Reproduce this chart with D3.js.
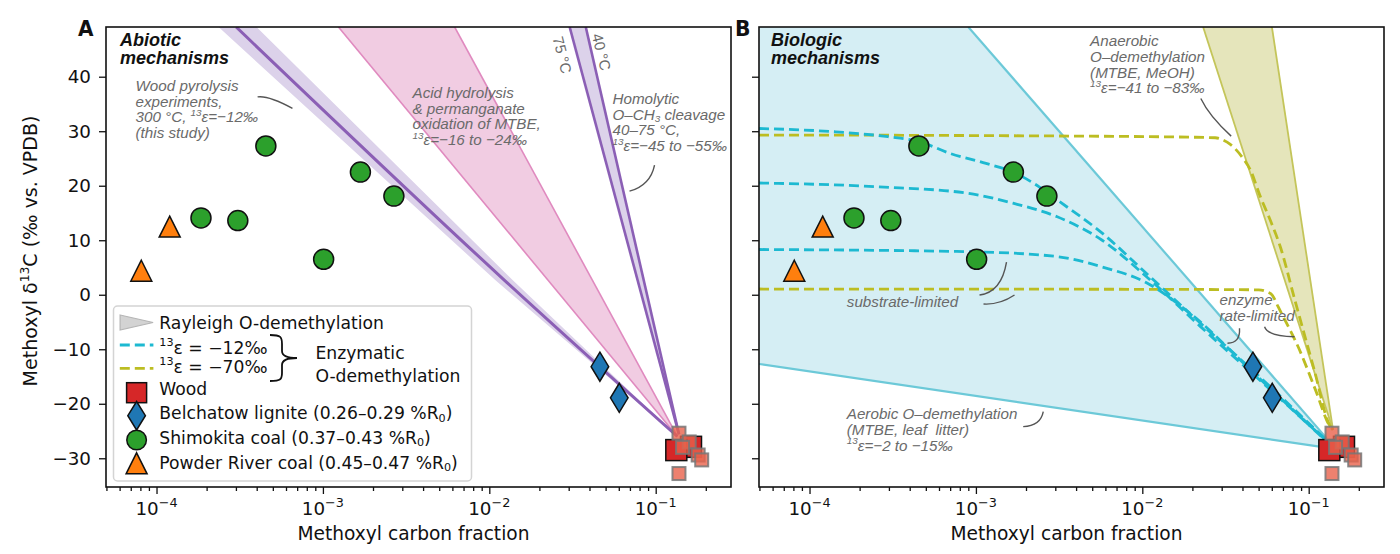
<!DOCTYPE html>
<html><head><meta charset="utf-8">
<script src="https://cdn.jsdelivr.net/npm/d3@7/dist/d3.min.js"></script>
<style>
body{margin:0;background:#fff;}
svg{display:block;}
</style></head><body>
<svg id="chart" width="1400" height="554"></svg>
<script>
// ---------------- data ----------------
const xTickValues=[1e-4,1e-3,1e-2,1e-1];
const xTickExponents=["−4","−3","−2","−1"];
const yTickValues=[-30,-20,-10,0,10,20,30,40];
const xDomain=[4.97e-5,0.2835];
const yDomain=[-35.27,49.12];

const woodBigX=[0.133,0.163];
const woodBigY=[-28.5,-27.9];
const woodX=[0.138,0.159,0.145,0.180,0.189,0.138];
const woodY=[-25.4,-27.0,-28.0,-29.4,-30.3,-32.8];
const belchatowX=[0.0462,0.0604];
const belchatowY=[-13.2,-18.9];
const shimokitaX=[1.85e-4,3.08e-4,4.54e-4,1.01e-3,1.68e-3,2.67e-3];
const shimokitaY=[14.1,13.6,27.3,6.5,22.5,18.1];
const powderX=[8.1e-5,1.2e-4];
const powderY=[4.4,12.5];

// model curves: [methoxyl fraction, delta13C]
const rayleigh12=[[3.01e-4,49.12],[0.0123,2.7],[0.135,-26]];
const rayleigh12Lo=[[2.36e-4,49.12],[0.01085,2.7],[0.135,-26]];
const rayleigh12Hi=[[3.99e-4,49.12],[0.0138,2.7],[0.135,-26]];
const acidLo=[[1.24e-3,49.12],[0.135,-26]];
const acidHi=[[6.19e-3,49.12],[0.135,-26]];
const homolytic75=[[0.0304,49.12],[0.138,-25.6]];
const homolytic40=[[0.038,49.12],[0.138,-25.6]];
const aerobicHi=[[9.0e-4,49.12],[0.128,-26.3]];
const aerobicLo=[[4.97e-5,-12.7],[0.119,-27.9]];
const anaerobicLo=[[0.0232,49.12],[0.140,-24.8]];
const anaerobicHi=[[0.0601,49.12],[0.140,-24.8]];
const enzCyanA=[[4.97e-5,30.5],[1.41e-4,29.9],[2.96e-4,29.0],[4.56e-4,28.1],[7.03e-4,25.9],[1.15e-3,24.1],[1.67e-3,22.5],[2.40e-3,19.8],[3.08e-3,17.4],[5.74e-3,11.3],[0.0106,3.9],[0.0223,-5.2],[0.0465,-14.0],[0.128,-26.7]];
const enzCyanB=[[4.97e-5,20.5],[2.62e-4,19.8],[9.0e-4,18.6],[1.67e-3,16.8],[3.08e-3,14.3],[5.74e-3,10.0],[0.0106,3.3],[0.0223,-5.8],[0.0465,-14.6],[0.128,-26.8]];
const enzCyanC=[[4.97e-5,8.3],[9.0e-4,7.9],[3.08e-3,7.0],[5.74e-3,5.1],[0.0106,2.2],[0.0197,-3.6],[0.0465,-14.3],[0.128,-26.9]];
const enzOliveA=[[4.97e-5,29.3],[1e-3,29.2],[0.02,28.9],[0.0274,28.8],[0.0305,28.4],[0.0338,27.6],[0.0397,25.3],[0.0446,22.9],[0.0512,18.0],[0.0587,13.7],[0.0675,8.8],[0.0826,-1.0],[0.108,-13.8],[0.1334,-23.9],[0.14,-24.8]];
const enzOliveB=[[4.97e-5,1.05],[0.01,1.0],[0.05,0.9],[0.0555,0.6],[0.0605,-0.1],[0.0655,-2.2],[0.088,-10.1],[0.110,-17.5],[0.1334,-24.0],[0.14,-24.8]];

// ---------------- layout ----------------
const svg=d3.select("#chart");
const Y0=27,Y1=487;
const panels=[{x0:106,x1:731,label:"A",lx:78},{x0:759,x1:1384,label:"B",lx:735}];
const sansFont="DejaVu Sans";
const annFont="Liberation Sans, Arial, sans-serif";
const gray="#6a6a6a";
const tickFs=18.3;

const C={purple:"#8b5fb5",lavender:"#dcd2ea",pinkFill:"#f1cce2",pinkEdge:"#e08abf",
  cyanFill:"#d5eef4",cyanEdge:"#6cc9d8",cyanDash:"#1db9d1",oliveFill:"#e5e5bb",oliveEdge:"#c4c55a",oliveDash:"#bcbd22",
  green:"#2ca02c",blue:"#1f77b4",orange:"#ff7f0e",red:"#d62728",redLight:"#e8624b"};

// multi-line rich text inside ONE text element; parts: "str" or ["str","sup"|"sub"]
function richLines(t,lines,fs,x,step){
  let shift=0;
  lines.forEach((parts,k)=>{
    parts.forEach((p,j)=>{
      const isStr=typeof p==="string";
      const s=isStr?0:(p[1]==="sup"?-0.42*fs:0.15*fs);
      const ts=t.append("tspan");
      let dy=s-shift;
      if(j===0&&k>0){ts.attr("x",x); dy+=step;}
      ts.attr("dy",dy);
      if(!isStr) ts.attr("font-size",fs*0.65);
      ts.text(isStr?p:p[0]);
      shift=s;
    });
  });
}

function makeScales(p){
  return {x:d3.scaleLog().domain(xDomain).range([p.x0,p.x1]),
          y:d3.scaleLinear().domain(yDomain).range([Y1,Y0])};
}

const minorTicks=[];
[-5,-4,-3,-2,-1].forEach(e=>{for(let k=2;k<=9;k++){const v=k*Math.pow(10,e); if(v>=xDomain[0]&&v<=xDomain[1]) minorTicks.push(v);}});

panels.forEach((p,i)=>{
  const {x,y}=makeScales(p);
  const g=svg.append("g");
  const cid="clip"+i;
  svg.append("clipPath").attr("id",cid).append("rect").attr("x",p.x0).attr("y",Y0).attr("width",p.x1-p.x0).attr("height",Y1-Y0);
  const plot=g.append("g").attr("clip-path",`url(#${cid})`);
  const lin=d3.line().x(d=>x(d[0])).y(d=>y(d[1]));
  const smooth=d3.line().x(d=>x(d[0])).y(d=>y(d[1])).curve(d3.curveMonotoneX);
  const band=(a,b)=>a.concat(b.slice().reverse());

  if(i===0){
    plot.append("path").attr("d",lin(band(rayleigh12Lo,rayleigh12Hi))+"Z").attr("fill",C.lavender);
    plot.append("path").attr("d",lin(band(acidLo,acidHi))+"Z").attr("fill",C.pinkFill);
    [acidLo,acidHi].forEach(l=>plot.append("path").attr("d",lin(l)).attr("fill","none").attr("stroke",C.pinkEdge).attr("stroke-width",1.6));
    plot.append("path").attr("d",lin(band(homolytic75,homolytic40))+"Z").attr("fill",C.lavender);
    [homolytic75,homolytic40].forEach(l=>plot.append("path").attr("d",lin(l)).attr("fill","none").attr("stroke",C.purple).attr("stroke-width",2.6));
    plot.append("path").attr("d",smooth(rayleigh12)).attr("fill","none").attr("stroke",C.purple).attr("stroke-width",3);
  } else {
    const poly=[[xDomain[0],yDomain[1]]].concat(aerobicHi,aerobicLo.slice().reverse());
    plot.append("path").attr("d",lin(poly)+"Z").attr("fill",C.cyanFill);
    [aerobicHi,aerobicLo].forEach(l=>plot.append("path").attr("d",lin(l)).attr("fill","none").attr("stroke",C.cyanEdge).attr("stroke-width",2.2));
    plot.append("path").attr("d",lin(band(anaerobicLo,anaerobicHi))+"Z").attr("fill",C.oliveFill);
    [anaerobicLo,anaerobicHi].forEach(l=>plot.append("path").attr("d",lin(l)).attr("fill","none").attr("stroke",C.oliveEdge).attr("stroke-width",1.8));
    [enzOliveA,enzOliveB].forEach(l=>plot.append("path").attr("d",smooth(l)).attr("fill","none").attr("stroke",C.oliveDash).attr("stroke-width",2.8).attr("stroke-dasharray","10,5"));
    [enzCyanA,enzCyanB,enzCyanC].forEach(l=>plot.append("path").attr("d",smooth(l)).attr("fill","none").attr("stroke",C.cyanDash).attr("stroke-width",2.8).attr("stroke-dasharray","10,5"));
  }

  // markers
  const mk=plot.append("g").attr("stroke","#111").attr("stroke-width",1.5);
  powderX.forEach((v,k)=>{const cx=x(v),cy=y(powderY[k]);
    mk.append("path").attr("d",`M${cx},${cy-10.5}L${cx+10.5},${cy+10.5}L${cx-10.5},${cy+10.5}Z`).attr("fill",C.orange);});
  shimokitaX.forEach((v,k)=>mk.append("circle").attr("cx",x(v)).attr("cy",y(shimokitaY[k])).attr("r",10).attr("fill",C.green));
  belchatowX.forEach((v,k)=>{const cx=x(v),cy=y(belchatowY[k]);
    mk.append("path").attr("d",`M${cx},${cy-14.5}L${cx+8.8},${cy}L${cx},${cy+14.5}L${cx-8.8},${cy}Z`).attr("fill",C.blue);});
  woodBigX.slice().reverse().forEach((v,k)=>{const yy=woodBigY.slice().reverse()[k];
    mk.append("rect").attr("x",x(v)-10.5).attr("y",y(yy)-10.5).attr("width",21).attr("height",21).attr("fill",C.red).attr("stroke","#111");});
  woodX.forEach((v,k)=>mk.append("rect").attr("x",x(v)-6.5).attr("y",y(woodY[k])-6.5).attr("width",13).attr("height",13)
     .attr("fill",C.redLight).attr("fill-opacity",0.8).attr("stroke","#777").attr("stroke-opacity",0.85).attr("stroke-width",2));

  // frame
  g.append("rect").attr("x",p.x0).attr("y",Y0).attr("width",p.x1-p.x0).attr("height",Y1-Y0).attr("fill","none").attr("stroke","#111").attr("stroke-width",1.6);

  // axes
  const ax=g.append("g").attr("transform",`translate(0,${Y1})`).call(d3.axisBottom(x).tickValues(xTickValues).tickSize(7).tickFormat(""));
  const axm=g.append("g").attr("transform",`translate(0,${Y1})`).call(d3.axisBottom(x).tickValues(minorTicks).tickSize(4).tickFormat(""));
  const ay=g.append("g").attr("transform",`translate(${p.x0},0)`).call(d3.axisLeft(y).tickValues(yTickValues).tickSize(7).tickPadding(8)
     .tickFormat(d=>i===0?(d<0?"−"+(-d):String(d)):""));
  [ax,axm,ay].forEach(a=>{a.select(".domain").remove(); a.selectAll("line").attr("stroke","#111").attr("stroke-width",1.3);});
  ay.selectAll("text").attr("font-family",sansFont).attr("font-size",tickFs).attr("fill","#111");
  xTickValues.forEach((v,k)=>{
    const t=g.append("text").attr("x",x(v)).attr("y",Y1+28).attr("text-anchor","middle").attr("font-family",sansFont).attr("font-size",tickFs).attr("fill","#111");
    t.append("tspan").text("10");
    t.append("tspan").attr("dy",-8.5).attr("font-size",12.8).text(xTickExponents[k]);
  });
  g.append("text").attr("x",(p.x0+p.x1)/2-5).attr("y",540).attr("text-anchor","middle").attr("font-family",sansFont).attr("font-size",18.6).attr("fill","#111").text("Methoxyl carbon fraction");
  g.append("text").attr("x",p.lx).attr("y",35.5).attr("font-family","DejaVu Sans").attr("font-weight","bold").attr("font-size",21.5).attr("fill","#111").attr("textLength",15.5).attr("lengthAdjust","spacingAndGlyphs").text(p.label);
});

// y label
const yl=svg.append("text").attr("transform","translate(36.5,251) rotate(-90)").attr("text-anchor","middle").attr("font-family",sansFont).attr("font-size",19).attr("fill","#111");
richLines(yl,[["Methoxyl δ",["13","sup"],"C (‰ vs. VPDB)"]],19,0,0);

// ---------------- annotations (data coordinates) ----------------
const S0=makeScales(panels[0]), S1=makeScales(panels[1]);
const titles=[
  {s:S0,x:6.04e-5,y:45.63,lines:["Abiotic","mechanisms"]},
  {s:S1,x:5.86e-5,y:45.63,lines:["Biologic","mechanisms"]}
];
titles.forEach(a=>{
  const xx=a.s.x(a.x);
  a.lines.forEach((l,k)=>svg.append("text").attr("x",xx).attr("y",a.s.y(a.y)+k*17.5).attr("font-family",annFont)
    .attr("font-style","italic").attr("font-weight","bold").attr("font-size",18).attr("fill","#111").text(l));
});
const notes=[
  {s:S0,x:7.48e-5,y:37.4,lines:[["Wood pyrolysis"],["experiments,"],["300 °C, ",["13","sup"],"ε=−12‰"],["(this study)"]]},
  {s:S0,x:3.455e-3,y:36.1,lines:[["Acid hydrolysis"],["& permanganate"],["oxidation of MTBE,"],[["13","sup"],"ε=−16 to −24‰"]]},
  {s:S0,x:0.055,y:35.0,lines:[["Homolytic"],["O–CH",["3","sub"]," cleavage"],["40–75 °C,"],[["13","sup"],"ε=−45 to −55‰"]]},
  {s:S1,x:4.857e-3,y:45.6,lines:[["Anaerobic"],["O–demethylation"],["(MTBE, MeOH)"],[["13","sup"],"ε=−41 to −83‰"]]},
  {s:S1,x:1.675e-4,y:-2.19,lines:[["substrate-limited"]]},
  {s:S1,x:0.0291,y:-1.88,lines:[["enzyme"],["rate-limited"]]},
  {s:S1,x:1.675e-4,y:-22.85,lines:[["Aerobic O–demethylation"],["(MTBE, leaf  litter)"],[["13","sup"],"ε=−2 to −15‰"]]}
];
notes.forEach(a=>{
  const xx=a.s.x(a.x);
  const t=svg.append("text").attr("x",xx).attr("y",a.s.y(a.y)).attr("font-family",annFont)
    .attr("font-style","italic").attr("font-size",15.2).attr("fill",gray).attr("xml:space","preserve");
  richLines(t,a.lines,15.2,xx,15.7);
});
const rotNotes=[{s:S0,x:0.02754,y:43.98,t:"75 °C"},{s:S0,x:0.04737,y:44.53,t:"40 °C"}];
rotNotes.forEach(a=>{
  svg.append("text").attr("transform",`translate(${a.s.x(a.x)},${a.s.y(a.y)}) rotate(76)`).attr("text-anchor","middle")
    .attr("dominant-baseline","central").attr("font-family",annFont).attr("font-size",15).attr("fill",gray).text(a.t);
});
const leaders=[
  {s:S0,p:[[4.05e-4,36.3],[4.7e-4,36.6],[6.56e-4,34.2]]},
  {s:S0,p:[[0.0984,23.8],[0.093,20.1],[0.0696,19.0]]},
  {s:S1,p:[[0.02247,36.0],[0.0252,32.8],[0.0342,29.1]]},
  {s:S1,p:[[1.051e-3,-0.05],[1.425e-3,0.5],[1.527e-3,6.0]]},
  {s:S1,p:[[1.111e-3,-1.7],[1.386e-3,-1.88],[1.706e-3,-0.05]]},
  {s:S1,p:[[0.03838,-6.16],[0.0389,-8.85],[0.0325,-8.9]]},
  {s:S1,p:[[0.0543,-5.86],[0.0565,-7.57],[0.0822,-7.7]]},
  {s:S1,p:[[1.924e-3,-24.2],[2.444e-3,-24.1],[2.54e-3,-21.46]]}
];
leaders.forEach(a=>{
  const q=a.p.map(d=>[a.s.x(d[0]),a.s.y(d[1])]);
  svg.append("path").attr("d",`M${q[0]}Q${q[1]} ${q[2]}`).attr("fill","none").attr("stroke","#555").attr("stroke-width",1.4);
});

// ---------------- legend ----------------
const L=svg.append("g");
L.append("rect").attr("x",113.5).attr("y",306).attr("width",358).attr("height",175).attr("rx",4)
  .attr("fill","#fff").attr("fill-opacity",0.85).attr("stroke","#d4d4d4").attr("stroke-width",1.5);
const lx=136.6, tx=159.3, lfs=17.2;
const legendRows=[
  {t:["Rayleigh O-demethylation"],tc:322.7},
  {t:[["13","sup"],"ε = −12‰"],tc:347.3},
  {t:[["13","sup"],"ε = −70‰"],tc:366.5},
  {t:["Wood"],tc:389},
  {t:["Belchatow lignite (0.26–0.29 %R",["0","sub"],")"],tc:413},
  {t:["Shimokita coal (0.37–0.43 %R",["0","sub"],")"],tc:437.7},
  {t:["Powder River coal (0.45–0.47 %R",["0","sub"],")"],tc:462.7}
];
legendRows.forEach(r=>{
  const t=L.append("text").attr("x",tx).attr("y",r.tc+6.2).attr("font-family",sansFont).attr("font-size",lfs).attr("fill","#111");
  richLines(t,[r.t],lfs,tx,0);
});
L.append("path").attr("d",`M${lx-16.5},315L${lx+16.5},322.5L${lx-16.5},330Z`).attr("fill","#d3d3d3").attr("stroke","#b5b5b5").attr("stroke-width",1.2);
L.append("line").attr("x1",lx-16.8).attr("x2",lx+16.8).attr("y1",345).attr("y2",345).attr("stroke",C.cyanDash).attr("stroke-width",2.8).attr("stroke-dasharray","10,5");
L.append("line").attr("x1",lx-16.8).attr("x2",lx+16.8).attr("y1",368.3).attr("y2",368.3).attr("stroke",C.oliveDash).attr("stroke-width",2.8).attr("stroke-dasharray","10,5");
L.append("path").attr("d","M270,335C281,335 282,337 282,344L282,351C282,356 287,358 297,358C287,358 282,360 282,365L282,373C282,379 281,381 270,381").attr("fill","none").attr("stroke","#111").attr("stroke-width",1.8);
const en=L.append("text").attr("x",315.4).attr("y",358.5).attr("font-family",sansFont).attr("font-size",lfs).attr("fill","#111");
richLines(en,[["Enzymatic"],["O-demethylation"]],lfs,315.4,23.3);
const lm=L.append("g").attr("stroke","#111").attr("stroke-width",1.5);
lm.append("rect").attr("x",lx-10).attr("y",392.7-10).attr("width",20).attr("height",20).attr("fill",C.red);
lm.append("path").attr("d",`M${lx},401.5L${lx+8.8},415.7L${lx},430L${lx-8.8},415.7Z`).attr("fill",C.blue);
lm.append("circle").attr("cx",lx).attr("cy",440).attr("r",9.8).attr("fill",C.green);
lm.append("path").attr("d",`M${lx},452.8L${lx+10.5},473.8L${lx-10.5},473.8Z`).attr("fill",C.orange);
</script>
</body></html>
